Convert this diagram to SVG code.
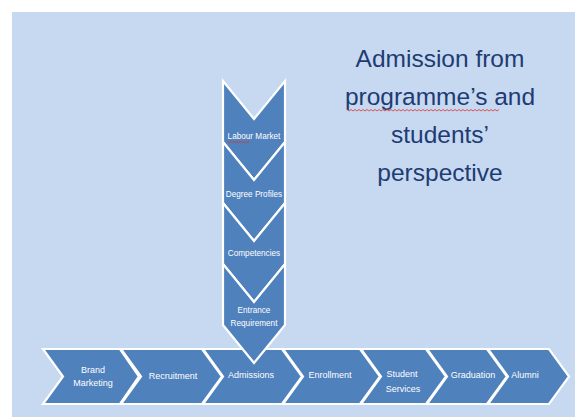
<svg xmlns="http://www.w3.org/2000/svg" width="575" height="417" viewBox="0 0 575 417">
<defs>
<style>
.chev{fill:#4F81BD;stroke:#FFFFFF;stroke-width:2.2;stroke-linejoin:miter}
.lbl{font-family:"Liberation Sans",Arial,sans-serif;fill:#FFFFFF;text-anchor:middle}
.v{font-size:8.2px}
.h{font-size:9px}
.title{font-family:"Liberation Sans",Arial,sans-serif;font-size:24.5px;fill:#1F3B73;text-anchor:middle}
.sq{fill:none;stroke:#E0302C;stroke-width:0.8}
</style>
</defs>
<rect x="0" y="0" width="575" height="417" fill="#FFFFFF"/>
<rect x="12" y="12" width="563" height="405" fill="#C6D9F1"/>

<g id="title">
<text class="title" x="440" y="67">Admission from</text>
<text class="title" x="440" y="105">programme’s and</text>
<text class="title" x="440" y="143">students’</text>
<text class="title" x="440" y="181">perspective</text>
<path class="sq" d="M347,109.5 l2,1.5 l2,-1.5 l2,1.5 l2,-1.5 l2,1.5 l2,-1.5 l2,1.5 l2,-1.5 l2,1.5 l2,-1.5 l2,1.5 l2,-1.5 l2,1.5 l2,-1.5 l2,1.5 l2,-1.5 l2,1.5 l2,-1.5 l2,1.5 l2,-1.5 l2,1.5 l2,-1.5 l2,1.5 l2,-1.5 l2,1.5 l2,-1.5 l2,1.5 l2,-1.5 l2,1.5 l2,-1.5 l2,1.5 l2,-1.5 l2,1.5 l2,-1.5 l2,1.5 l2,-1.5 l2,1.5 l2,-1.5 l2,1.5 l2,-1.5 l2,1.5 l2,-1.5 l2,1.5 l2,-1.5 l2,1.5 l2,-1.5 l2,1.5 l2,-1.5 l2,1.5 l2,-1.5 l2,1.5 l2,-1.5 l2,1.5 l2,-1.5 l2,1.5 l2,-1.5 l2,1.5 l2,-1.5 l2,1.5 l2,-1.5 l2,1.5 l2,-1.5 l2,1.5 l2,-1.5 l2,1.5 l2,-1.5 l2,1.5 l2,-1.5 l2,1.5 l2,-1.5 l2,1.5 l2,-1.5 l2,1.5 l2,-1.5 l2,1.5 l2,-1.5"/>
</g>

<g id="brand-marketing">
<path class="chev" d="M43,349 L120,349 L139,376.5 L120,404 L43,404 L63,376.5 Z"/>
<text class="lbl h" x="93" y="373">Brand</text>
<text class="lbl h" x="93" y="386">Marketing</text>
</g>
<g id="recruitment">
<path class="chev" d="M121,349 L202,349 L222,376.5 L202,404 L121,404 L141,376.5 Z"/>
<text class="lbl h" x="173" y="379">Recruitment</text>
</g>
<g id="admissions">
<path class="chev" d="M203,349 L282,349 L302,376.5 L282,404 L203,404 L223,376.5 Z"/>
<text class="lbl h" x="251" y="378">Admissions</text>
</g>
<g id="enrollment">
<path class="chev" d="M283,349 L360,349 L380,376.5 L360,404 L283,404 L303,376.5 Z"/>
<text class="lbl h" x="330" y="378">Enrollment</text>
</g>
<g id="student-services">
<path class="chev" d="M361,349 L426,349 L446,376.5 L426,404 L361,404 L381,376.5 Z"/>
<text class="lbl h" x="402" y="377">Student</text>
<text class="lbl h" x="403" y="392">Services</text>
</g>
<g id="graduation">
<path class="chev" d="M427,349 L487,349 L507,376.5 L487,404 L427,404 L447,376.5 Z"/>
<text class="lbl h" x="473" y="378">Graduation</text>
</g>
<g id="alumni">
<path class="chev" d="M488,349 L549,349 L569,376.5 L549,404 L488,404 L508,376.5 Z"/>
<text class="lbl h" x="525" y="378">Alumni</text>
</g>

<g id="labour-market">
<path class="chev" d="M223,81 L254,119 L285,81 L285,142 L254,180 L223,142 Z"/>
<text class="lbl v" x="254" y="139">Labour Market</text>
<path class="sq" d="M228,141.5 l1.5,1.2 l1.5,-1.2 l1.5,1.2 l1.5,-1.2 l1.5,1.2 l1.5,-1.2 l1.5,1.2 l1.5,-1.2 l1.5,1.2 l1.5,-1.2 l1.5,1.2 l1.5,-1.2 l1.5,1.2 l1.5,-1.2"/>
</g>
<g id="degree-profiles">
<path class="chev" d="M223,142 L254,180 L285,142 L285,203 L254,241 L223,203 Z"/>
<text class="lbl v" x="254" y="197">Degree Profiles</text>
</g>
<g id="competencies">
<path class="chev" d="M223,203 L254,241 L285,203 L285,264 L254,302 L223,264 Z"/>
<text class="lbl v" x="254" y="256">Competencies</text>
</g>
<g id="entrance-requirement">
<path class="chev" d="M223,264 L254,302 L285,264 L285,325 L254,363 L223,325 Z"/>
<text class="lbl v" x="254" y="313">Entrance</text>
<text class="lbl v" x="254" y="326">Requirement</text>
</g>
<g id="connectors"></g>
</svg>
